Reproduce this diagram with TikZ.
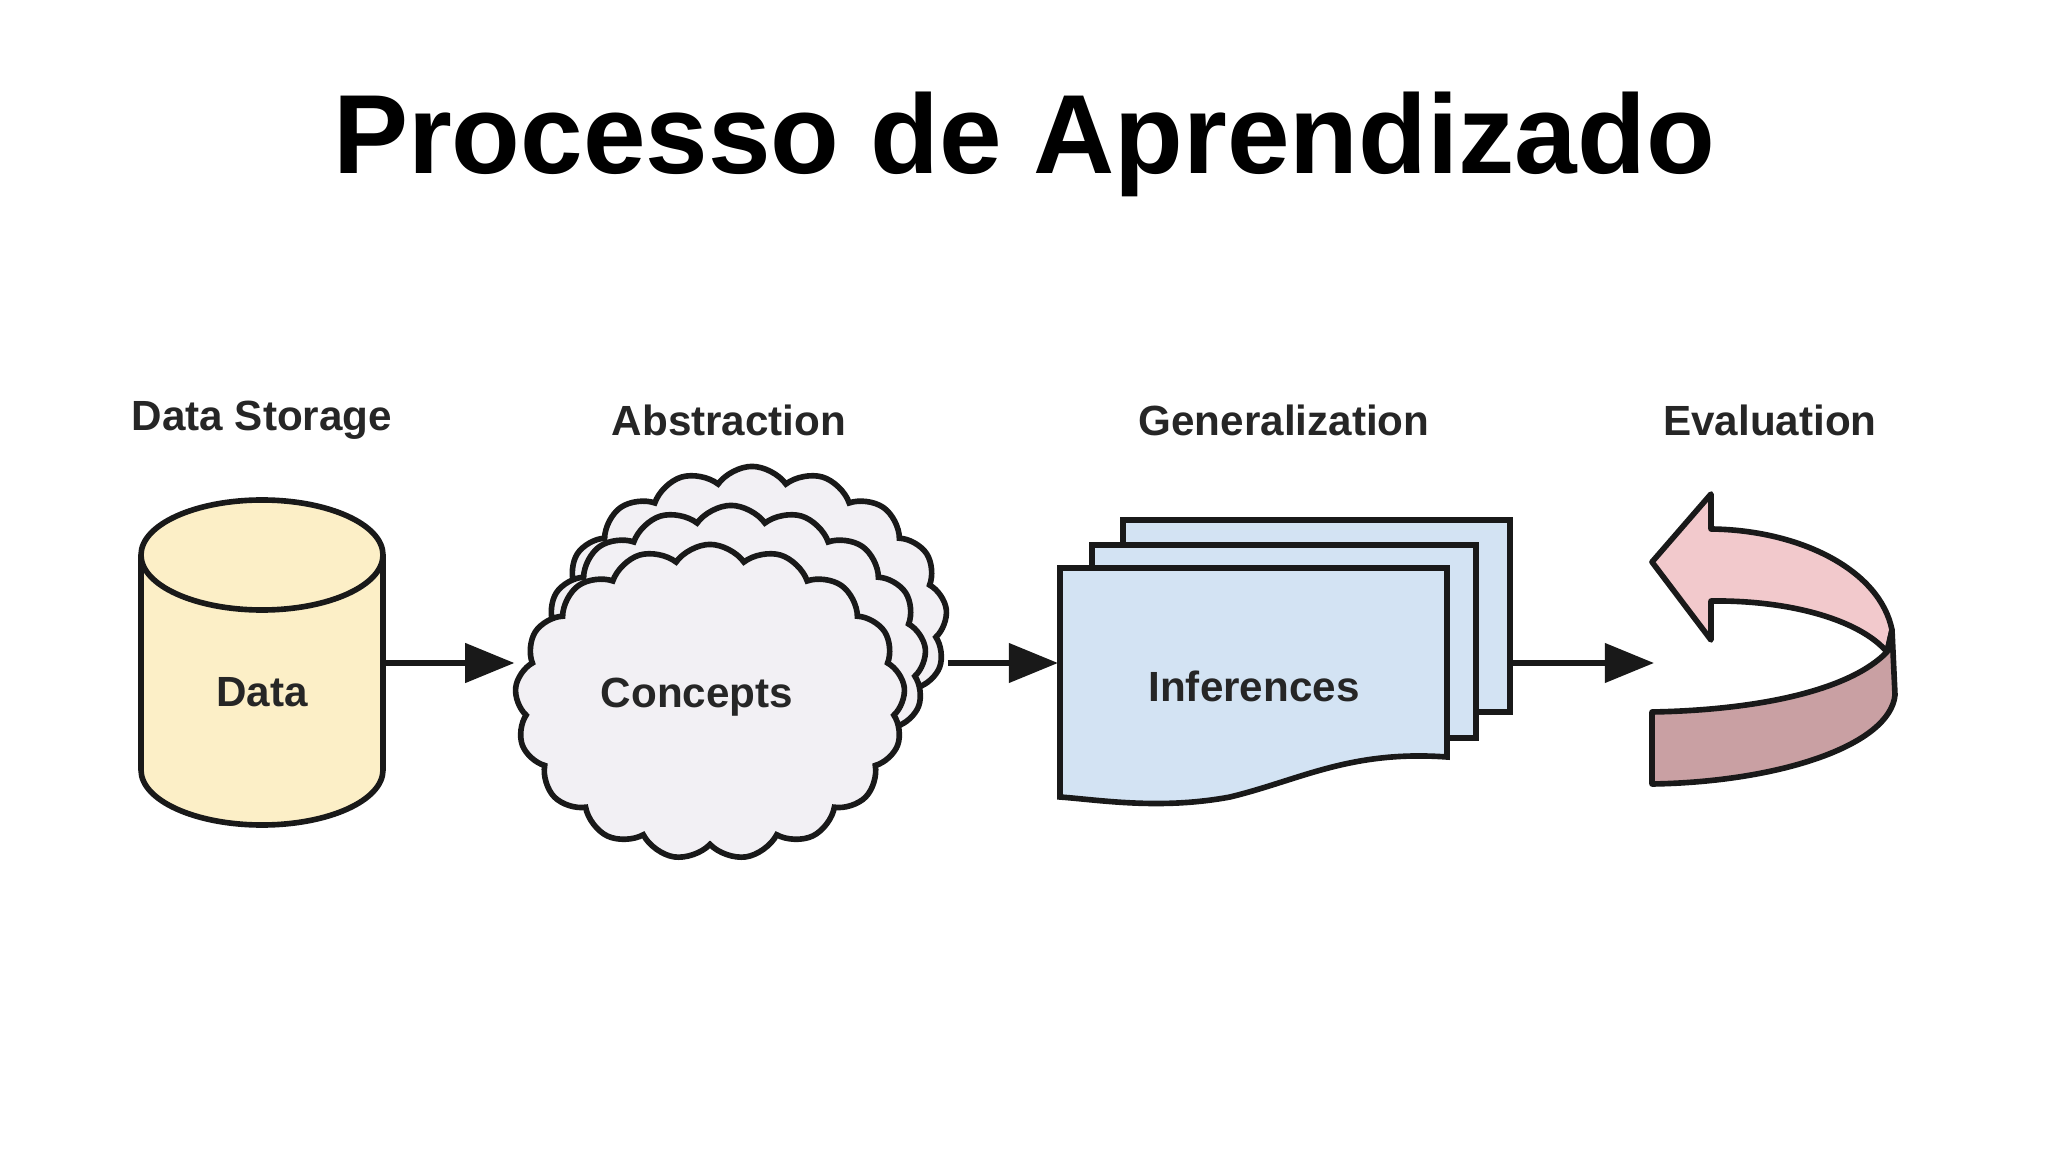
\documentclass[tikz,border=0pt]{standalone}
\usepackage{fontspec}
\setmainfont{Liberation Sans}
\usetikzlibrary{shapes.symbols,arrows.meta}
\begin{document}
\begin{tikzpicture}[x=0.01cm,y=-0.01cm,
  lbl/.style={font=\bfseries\fontsize{12}{14}\selectfont, text=black!85},
  shp/.style={draw=black!90, line width=1.6pt},
  conn/.style={draw=black!90, line width=1.6pt, -{Triangle[length=14pt,width=11pt]}},
  cl/.style={shp, cloud, cloud puffs=17, cloud puff arc=110, fill=cloudc, minimum width=3.9cm, minimum height=3.15cm, aspect=1.2}]
\definecolor{cyl}{HTML}{FCEFC7}
\definecolor{cloudc}{HTML}{F2F0F4}
\definecolor{docc}{HTML}{D3E3F3}
\definecolor{pinkc}{HTML}{F2C9CC}
\definecolor{darkp}{HTML}{C9A0A3}
\useasboundingbox (0,0) rectangle (2048,1152);
\node (title) at (1024,144) {\bfseries\fontsize{32}{38}\selectfont Processo de Aprendizado};
\node[lbl] (l1) at (262,420) {Data Storage};
\node[lbl] (l2) at (729,420) {Abstraction};
\node[lbl] (l3) at (1284,420) {Generalization};
\node[lbl] (l4) at (1770,420) {Evaluation};
% cylinder
\path[shp, fill=cyl] (141,555) -- (141,770) arc[start angle=180,end angle=0,x radius=121,y radius=55] -- (383,555) arc[start angle=0,end angle=-180,x radius=121,y radius=55] -- cycle;
\draw[shp] (141,555) arc[start angle=180,end angle=0,x radius=121,y radius=55];
\node[lbl] (data) at (262,692) {Data};
\coordinate (cylR) at (384,663);
% clouds
\node[cl] (c3) at (752,624) {};
\node[cl] (c2) at (731,663) {};
\node[cl] (c1) at (710,702) {};
\node[lbl] (concepts) at (697,697) {Concepts};
% documents
\path[shp, fill=docc] (1123,520) rectangle (1510,712);
\path[shp, fill=docc] (1092,545) rectangle (1476,738);
\path[shp, fill=docc] (1060,568) -- (1447,568) -- (1447,757) .. controls (1350,750) and (1300,780) .. (1230,797) .. controls (1160,810) and (1100,800) .. (1060,797) -- cycle;
\node[lbl] (inf) at (1254,686) {Inferences};
\coordinate (docL) at (1058,663);
\coordinate (docR) at (1510,663);
% evaluation arrow
\path[shp, fill=pinkc, line join=round] (1652,562) -- (1711,494) -- (1711,529) .. controls (1800,530) and (1880,570) .. (1892,630) -- (1887,652) .. controls (1860,620) and (1790,600) .. (1711,601) -- (1711,640) -- cycle;
\path[shp, fill=darkp, line join=round] (1892,630) -- (1895,695) .. controls (1890,745) and (1780,782) .. (1652,784) -- (1652,712) .. controls (1760,710) and (1850,690) .. (1887,652) -- cycle;
\coordinate (evalL) at (1654,663);
% connectors
\draw[conn] (cylR) -- (c1.west |- cylR);
\draw[conn] (c3.east |- cylR) -- (docL);
\draw[conn] (docR) -- (evalL);
\end{tikzpicture}
\end{document}
